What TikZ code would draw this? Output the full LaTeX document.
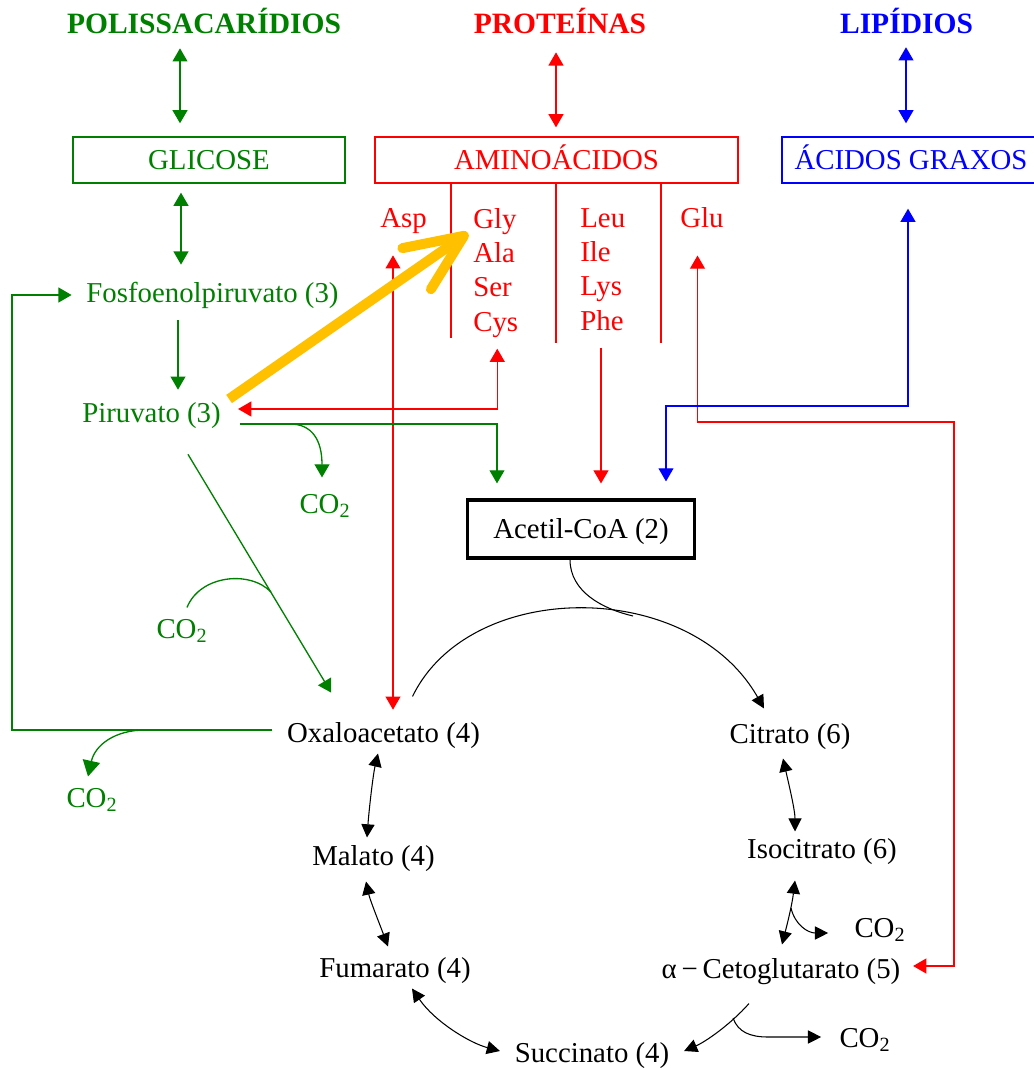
\documentclass[tikz,border=0pt]{standalone}
\usepackage{fontspec}
\setmainfont{Liberation Serif}
\usetikzlibrary{calc,arrows.meta}
\definecolor{polyGreen}{RGB}{0,128,0}
\definecolor{protRed}{RGB}{255,0,0}
\definecolor{lipBlue}{RGB}{0,0,255}
\definecolor{bridgeGold}{RGB}{255,192,0}

\begin{document}
\begin{tikzpicture}[x=0.02cm,y=-0.02cm,
  font=\fontsize{16.4}{19.5}\selectfont,
  lbl/.style={inner sep=0pt,text height=11.5pt,text depth=3.5pt},
  head/.style={lbl,font=\bfseries\fontsize{16.8}{19.5}\selectfont},
  catbox/.style={draw,line width=0.8pt,inner sep=0pt,minimum height=0.92cm,text height=11.5pt,text depth=0.5pt},
  aalist/.style={anchor=north west,inner sep=0pt,align=left,text=protRed},
  ctip/.tip={Triangle[length=7.5pt,width=8.5pt]},
  ktip/.tip={Triangle[length=7.5pt,width=7.5pt]},
  flow/.style={line width=0.75pt,-ctip},
  flow2/.style={line width=0.75pt,ctip-ctip},
  kflow/.style={line width=0.6pt,-ktip},
  kflow2/.style={line width=0.6pt,ktip-ktip}]
\path[use as bounding box] (0,0) rectangle (1034,1068);

\node[head,text=polyGreen] (polis) at (204,26) {POLISSACARÍDIOS};
\node[head,text=protRed] (prot) at (560,26) {PROTEÍNAS};
\node[head,text=lipBlue] (lip) at (906.5,26) {LIPÍDIOS};

\node[catbox,draw=polyGreen,text=polyGreen,minimum width=5.44cm] (glic) at (209,160) {GLICOSE};
\node[catbox,draw=protRed,text=protRed,minimum width=7.26cm] (amino) at (556.5,160) {AMINOÁCIDOS};
\node[catbox,draw=lipBlue,text=lipBlue,minimum width=5.16cm] (agrax) at (911,160) {ÁCIDOS GRAXOS};

\node[lbl,text=protRed,anchor=west] (asp) at (380,220) {Asp};
\node[aalist] (glygrp) at (473,208) {Gly\\Ala\\Ser\\Cys};
\node[aalist] (leugrp) at (580,208) {Leu\\Ile\\Lys\\Phe};
\node[lbl,text=protRed,anchor=west] (glu) at (680,220) {Glu};

\node[lbl,text=polyGreen] (fosfo) at (212.5,295) {Fosfoenolpiruvato (3)};
\node[lbl,text=polyGreen] (piru) at (151.5,415) {Piruvato (3)};
\node[lbl,text=polyGreen] (co2a) at (325,506) {CO\textsubscript{2}};
\node[lbl,text=polyGreen] (co2b) at (182,631) {CO\textsubscript{2}};
\node[lbl,text=polyGreen] (co2c) at (92,800) {CO\textsubscript{2}};

\node[draw,line width=1.8pt,inner sep=0pt,minimum width=4.54cm,minimum height=1.16cm,text height=11.5pt,text depth=0.5pt] (acetil) at (581,529) {Acetil-CoA (2)};

\node[lbl] (oxalo) at (383.5,735) {Oxaloacetato (4)};
\node[lbl] (citrato) at (790,736) {Citrato (6)};
\node[lbl] (isocit) at (822,851) {Isocitrato (6)};
\node[lbl] (aceto) at (781,971) {α\,−\,Cetoglutarato (5)};
\node[lbl] (succ) at (592,1055) {Succinato (4)};
\node[lbl] (fum) at (395,970) {Fumarato (4)};
\node[lbl] (mal) at (373.5,858) {Malato (4)};
\node[lbl] (co2d) at (880,930) {CO\textsubscript{2}};
\node[lbl] (co2e) at (865,1040) {CO\textsubscript{2}};

\coordinate (pyrfork) at (290,424);
\coordinate (pepjoin) at (271,592);
\coordinate (oaafork) at (145,730);
\coordinate (acjoin) at (633,616);
\coordinate (icdfork) at (791,908);
\coordinate (akgfork) at (733,1018);

\draw[flow2,polyGreen,shorten <=5pt,shorten >=7.4pt] (polis.south -| 180,0) -- (glic.north -| 180,0);
\draw[flow2,protRed,shorten <=7.3pt,shorten >=5.1pt] (prot.south -| 556,0) -- (amino.north -| 556,0);
\draw[flow2,lipBlue,shorten <=4.4pt,shorten >=7.4pt] (lip.south -| 906,0) -- (agrax.north -| 906,0);
\draw[flow2,polyGreen,shorten <=5.1pt,shorten >=9.6pt] (glic.south -| 181,0) -- (fosfo.north -| 181,0);
\draw[flow,polyGreen,shorten <=6.7pt,shorten >=6.7pt] (fosfo.south -| 178,0) -- (piru.north -| 178,0);

\draw[protRed,line width=0.75pt] (amino.south -| 451,0) -- ++(0,154);
\draw[protRed,line width=0.75pt] (amino.south -| 556,0) -- ++(0,159);
\draw[protRed,line width=0.75pt] (amino.south -| 661,0) -- ++(0,159);

\draw[flow2,protRed,shorten <=12.4pt,shorten >=6.7pt] (asp.south -| 393,0) -- (oxalo.north -| 393,0);
\draw[flow2,protRed] ($(piru.east)+(17,-6)$) -| ($(glygrp.south)+(1.5,11)$);
\draw[flow,protRed,shorten <=9.7pt,shorten >=8.5pt] (leugrp.south -| 601,0) -- (acetil.north -| 601,0);
\draw[flow2,protRed] (glu.south -| 697.5,0) ++(0,22) |- (954,422) |- ($(aceto.east)+(12.5,-5)$);

\draw[flow2,lipBlue] ($(agrax.south)+(-3,25)$) -- (908,406) -| ($(acetil.north)+(85,-17)$);

\draw[flow,polyGreen] ($(piru.east)+(19,9)$) -| ($(acetil.north)+(-84,-15)$);
\draw[flow,polyGreen] (pyrfork) .. controls (312,424) and (322,440) .. ($(co2a.north)+(-3,-15)$);
\draw[flow,polyGreen] ($(piru.south)+(36.5,25.8)$) -- ($(oxalo.north west)+(44.5,-28.8)$);
\draw[polyGreen,line width=0.75pt] ($(co2b.north)+(5,-10)$) .. controls (200,575) and (250,570) .. (pepjoin);
\draw[flow,polyGreen] ($(oxalo.west)+(-14.5,-5)$) -| (12,295) -- ($(fosfo.west)+(-14.5,0)$);
\draw[polyGreen,line width=0.75pt,-{Triangle[length=9pt,width=10pt]}] (oaafork) .. controls (115,730) and (95,745) .. ($(co2c.north)+(-4,-10)$);

\draw[bridgeGold,line width=5.7pt,-{Straight Barb[length=1.15cm,width=1cm,round]}] ($(piru.east)+(8,-16)$) -- ($(glygrp.north west)+(-5,25)$);

\draw[kflow] ($(oxalo.north)+(29,-25)$) .. controls (470,578) and (690,578) .. ($(citrato.north)+(-26,-14)$);
\draw[line width=0.6pt] (acetil.south -| 570,0) .. controls (570,592) and (603,609) .. (acjoin);
\draw[kflow2] ($(citrato.south)+(-7,9)$) .. controls (789,785) and (795,810) .. ($(isocit.north)+(-27,-6)$);
\draw[kflow2] ($(isocit.south)+(-27,16)$) .. controls (792,905) and (787,925) .. ($(aceto.north)+(1,-13)$);
\draw[kflow] (icdfork) .. controls (795,925) and (808,933) .. ($(co2d.west)+(-26,3)$);
\draw[kflow] ($(aceto.south)+(-32,19)$) .. controls (730,1025) and (705,1042) .. ($(succ.east)+(14.5,-4)$);
\draw[kflow] (akgfork) .. controls (738,1032) and (750,1037) .. (768,1037) -- ($(co2e.west)+(-18,-3)$);
\draw[kflow2] ($(succ.west)+(-14.5,-4)$) .. controls (470,1043) and (435,1022) .. ($(fum.south)+(17,5)$);
\draw[kflow2] ($(fum.north)+(-7,-10)$) .. controls (380,925) and (370,900) .. ($(mal.south)+(-7.5,10)$);
\draw[kflow2] ($(mal.north)+(-6.5,-7)$) .. controls (369,810) and (373,775) .. ($(oxalo.south)+(-5.5,5)$);
\end{tikzpicture}
\end{document}
